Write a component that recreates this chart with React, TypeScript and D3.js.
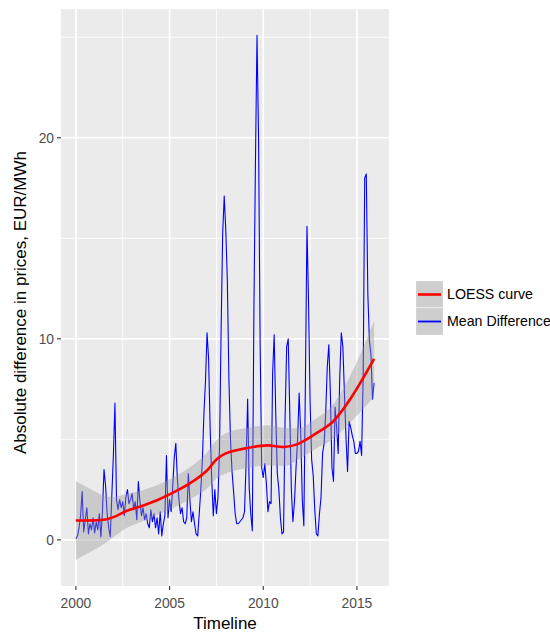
import React from 'react'
import * as d3 from 'd3'

// monthly mean absolute price difference, EUR/MWh, Jan 2000 .. Dec 2015
const startYear = 2000
const meanDiff = [
  0.05, 0.2, 0.6, 1.2, 2.4, 0.4, 1.0, 1.6, 0.3, 0.8, 0.5, 1.1, // 2000
  0.35, 0.9, 0.5, 1.3, 0.15, 1.4, 3.5, 2.7, 1.3, 0.6, 0.15, 2.2, // 2001
  4.2, 6.8, 2.0, 1.5, 2.0, 1.6, 1.9, 1.2, 2.1, 2.5, 1.8, 2.0, // 2002
  2.3, 1.5, 1.9, 1.0, 2.9, 1.9, 1.2, 1.6, 1.0, 1.3, 0.8, 0.6, // 2003
  1.5, 0.9, 1.3, 0.6, 1.1, 0.3, 1.4, 0.2, 0.8, 1.2, 4.2, 1.1, // 2004
  2.0, 1.4, 2.6, 4.1, 4.8, 3.0, 2.0, 1.3, 1.6, 0.9, 0.8, 1.1, // 2005
  3.3, 2.0, 0.9, 1.4, 0.8, 0.3, 0.2, 1.3, 2.5, 3.95, 6.3, 7.9, // 2006
  10.3, 9.0, 5.5, 3.0, 1.2, 2.5, 1.3, 2.1, 4.6, 10.4, 15.2, 17.1, // 2007
  15.4, 12.9, 8.0, 5.0, 3.4, 2.4, 1.3, 0.8, 0.8, 0.9, 1.0, 1.1, // 2008
  1.4, 3.8, 7.0, 2.6, 1.3, 0.45, 11.3, 18.8, 25.1, 20.0, 9.8, 3.6, // 2009
  3.1, 3.8, 2.8, 1.4, 1.9, 1.8, 8.3, 10.2, 6.3, 3.3, 2.5, 1.1, // 2010
  0.3, 0.4, 6.1, 9.6, 10.0, 6.3, 2.5, 0.9, 1.9, 3.6, 5.0, 7.3, // 2011
  5.3, 2.0, 0.7, 7.8, 15.6, 11.9, 6.9, 4.0, 3.2, 1.5, 0.3, 0.2, // 2012
  1.3, 2.1, 4.3, 4.8, 6.3, 8.6, 9.7, 7.3, 3.6, 2.9, 6.6, 5.6, // 2013
  4.3, 8.1, 10.3, 9.6, 7.3, 5.1, 3.4, 5.9, 5.6, 5.2, 4.9, 4.3, // 2014
  4.3, 4.4, 4.9, 4.2, 8.1, 18.0, 18.2, 12.2, 9.9, 9.2, 7.0, 7.8, // 2015
]

// loess fit, with half-width of the confidence band
const loessYears = [2000, 2001, 2001.5, 2002, 2002.7, 2003.4, 2004.3, 2005, 2006.1, 2007, 2007.5, 2008, 2009.1, 2010.2, 2011.1, 2011.8, 2012.8, 2013.7, 2014.6, 2015.917]
const loessFit = [0.96, 0.97, 1.0, 1.13, 1.44, 1.65, 1.96, 2.26, 2.82, 3.45, 4.0, 4.3, 4.56, 4.7, 4.62, 4.75, 5.28, 5.86, 6.94, 9.0]
const loessSe = [1.95, 1.45, 1.2, 1.0, 0.85, 0.78, 0.75, 0.75, 0.8, 0.9, 0.95, 1.0, 1.0, 1.0, 0.95, 0.8, 0.75, 0.85, 1.15, 1.9]

const xTicks = [2000, 2005, 2010, 2015]
const xMinor = [2002.5, 2007.5, 2012.5]
const yTicks = [0, 10, 20]
const yMinor = [5, 15, 25]
const legendLabels = ['LOESS curve', 'Mean Difference']
const legendColors = ['#FF0000', '#0000FF']

const font = '"Liberation Sans", Arial, sans-serif'

const App = () => {
  const width = 550
  const height = 633
  const panel = { left: 61, right: 389, top: 9, bottom: 586 }

  const series = meanDiff.map((v, i) => ({ t: startYear + i / 12, v }))
  const loess = loessYears.map((t, i) => ({ t, fit: loessFit[i], se: loessSe[i] }))

  const tMin = startYear
  const tMax = startYear + (meanDiff.length - 1) / 12
  const tPad = (tMax - tMin) * 0.05
  const x = d3.scaleLinear().domain([tMin - tPad, tMax + tPad]).range([panel.left, panel.right])

  const yLo = d3.min(loess, (d) => d.fit - d.se) ?? 0
  const yHi = d3.max(series, (d) => d.v) ?? 0
  const yPad = (yHi - yLo) * 0.05
  const y = d3.scaleLinear().domain([yLo - yPad, yHi + yPad]).range([panel.bottom, panel.top])

  const smooth = d3.curveCatmullRom.alpha(0.5)
  const line = d3.line<{ t: number; v: number }>().x((d) => x(d.t)).y((d) => y(d.v))
  const fitLine = d3
    .line<{ t: number; fit: number }>()
    .x((d) => x(d.t))
    .y((d) => y(d.fit))
    .curve(smooth)
  const band = d3
    .area<{ t: number; fit: number; se: number }>()
    .x((d) => x(d.t))
    .y0((d) => y(d.fit - d.se))
    .y1((d) => y(d.fit + d.se))
    .curve(d3.curveMonotoneX)

  const keyX = 416
  const keyW = 27
  const keyTop = 281
  const keyH = 27

  return (
    <svg width={width} height={height} style={{ position: 'absolute', left: 0, top: 0 }}>
      <rect x={0} y={0} width={width} height={height} fill="#FFFFFF" />
      <rect
        x={panel.left}
        y={panel.top}
        width={panel.right - panel.left}
        height={panel.bottom - panel.top}
        fill="#EBEBEB"
      />
      {yMinor.map((v) => (
        <line key={'ym' + v} x1={panel.left} x2={panel.right} y1={y(v)} y2={y(v)} stroke="#FFFFFF" strokeWidth={0.9} />
      ))}
      {xMinor.map((v) => (
        <line key={'xm' + v} x1={x(v)} x2={x(v)} y1={panel.top} y2={panel.bottom} stroke="#FFFFFF" strokeWidth={0.9} />
      ))}
      {yTicks.map((v) => (
        <line key={'yg' + v} x1={panel.left} x2={panel.right} y1={y(v)} y2={y(v)} stroke="#FFFFFF" strokeWidth={1.7} />
      ))}
      {xTicks.map((v) => (
        <line key={'xg' + v} x1={x(v)} x2={x(v)} y1={panel.top} y2={panel.bottom} stroke="#FFFFFF" strokeWidth={1.7} />
      ))}

      <path d={line(series) ?? ''} fill="none" stroke="#0000FF" strokeWidth={1.1} strokeLinejoin="round" />
      <path d={band(loess) ?? ''} fill="#999999" fillOpacity={0.4} />
      <path d={fitLine(loess) ?? ''} fill="none" stroke="#FF0000" strokeWidth={2.6} />

      {yTicks.map((v) => (
        <g key={'yt' + v}>
          <line x1={panel.left - 4} x2={panel.left} y1={y(v)} y2={y(v)} stroke="#333333" strokeWidth={1.1} />
          <text
            x={panel.left - 7}
            y={y(v)}
            dy="0.35em"
            textAnchor="end"
            fontFamily={font}
            fontSize={13.8}
            fill="#4D4D4D"
          >
            {v}
          </text>
        </g>
      ))}
      {xTicks.map((v) => (
        <g key={'xt' + v}>
          <line x1={x(v)} x2={x(v)} y1={panel.bottom} y2={panel.bottom + 4} stroke="#333333" strokeWidth={1.1} />
          <text x={x(v)} y={608} textAnchor="middle" fontFamily={font} fontSize={13.8} fill="#4D4D4D">
            {v}
          </text>
        </g>
      ))}

      <text x={(panel.left + panel.right) / 2} y={629} textAnchor="middle" fontFamily={font} fontSize={17} fill="#000000">
        Timeline
      </text>
      <text
        transform={`translate(26,${(panel.top + panel.bottom) / 2 + 5}) rotate(-90)`}
        textAnchor="middle"
        fontFamily={font}
        fontSize={17}
        fill="#000000"
      >
        Absolute difference in prices, EUR/MWh
      </text>

      {legendLabels.map((label, i) => (
        <g key={label}>
          <rect x={keyX} y={keyTop + i * keyH} width={keyW} height={keyH} fill="#F2F2F2" stroke="#FFFFFF" strokeWidth={1} />
          <rect x={keyX} y={keyTop + i * keyH} width={keyW} height={keyH} fill="#999999" fillOpacity={0.4} />
          <line
            x1={keyX + 2}
            x2={keyX + keyW - 2}
            y1={keyTop + i * keyH + keyH / 2}
            y2={keyTop + i * keyH + keyH / 2}
            stroke={legendColors[i]}
            strokeWidth={i === 0 ? 2.6 : 1.8}
          />
          <text
            x={keyX + keyW + 4}
            y={keyTop + i * keyH + keyH / 2}
            dy="0.35em"
            fontFamily={font}
            fontSize={14.2}
            fill="#000000"
          >
            {label}
          </text>
        </g>
      ))}
    </svg>
  )
}

export default App
